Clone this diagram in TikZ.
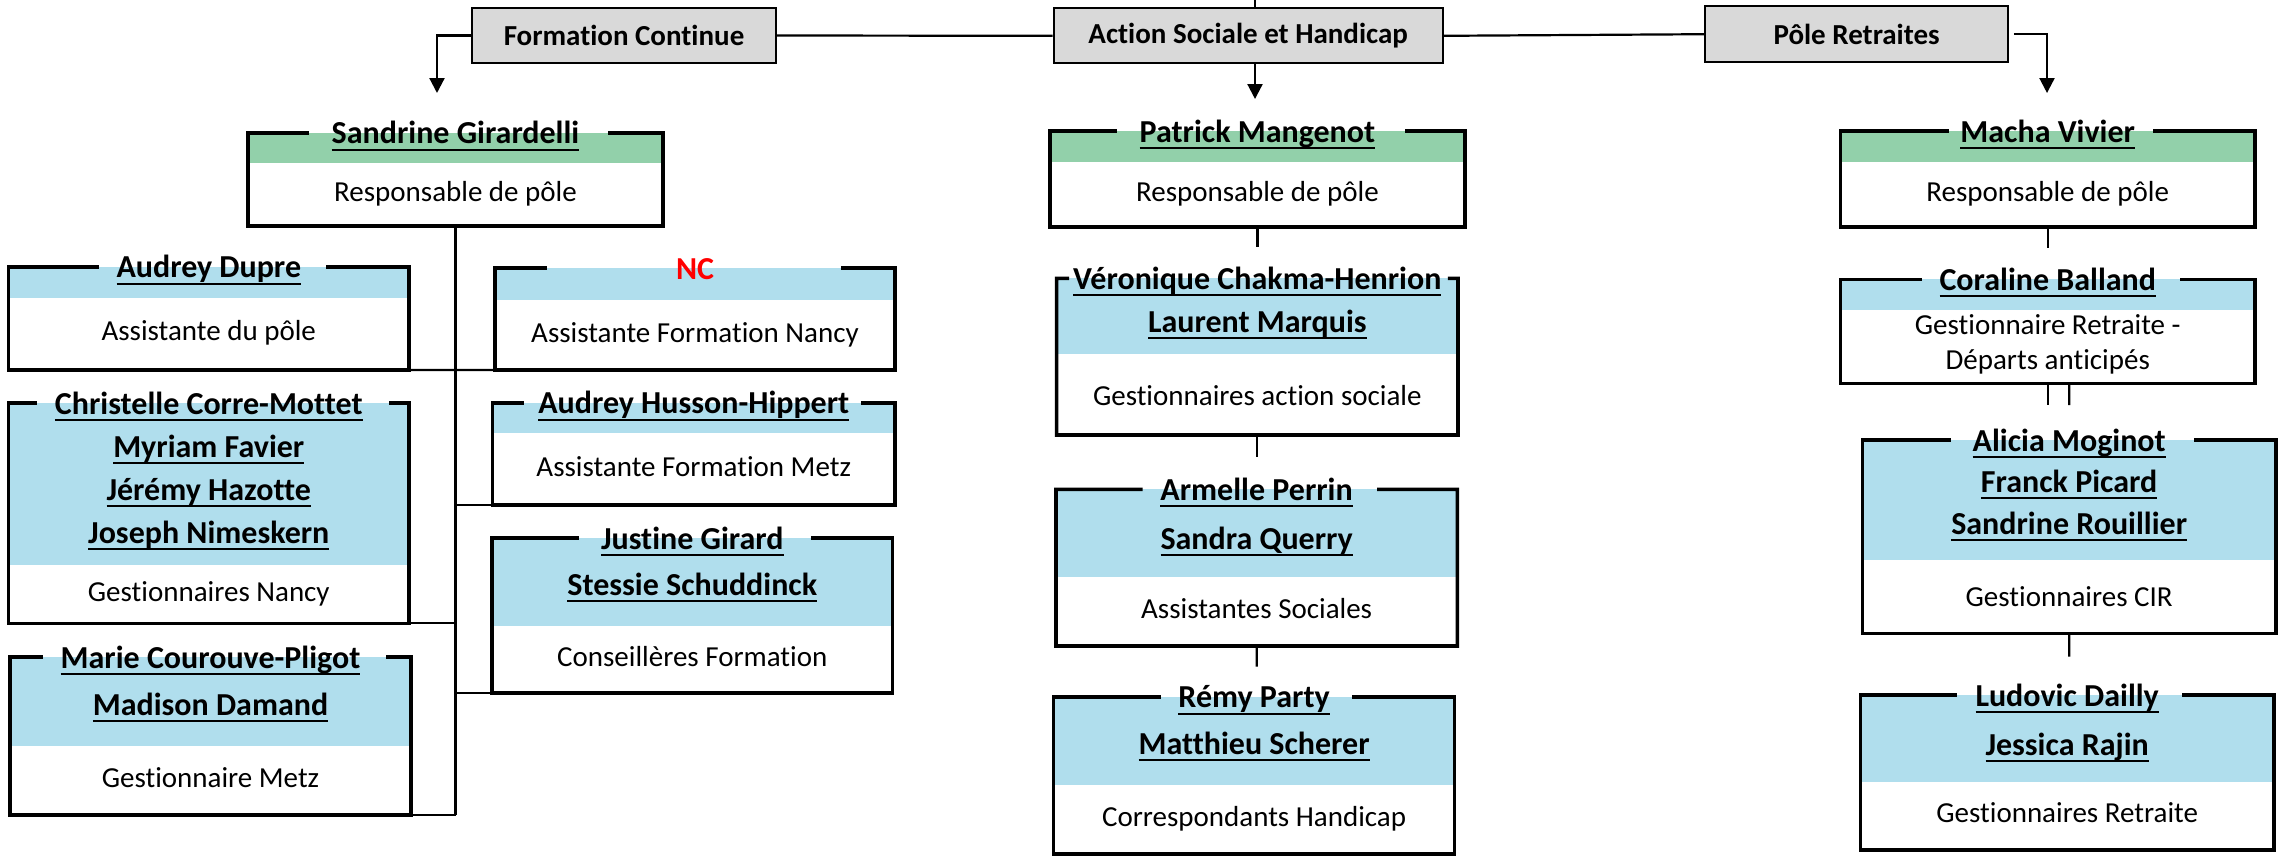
\documentclass[tikz,border=0pt]{standalone}
\usepackage{fontspec}
\setmainfont{Carlito}[Ligatures={NoCommon}]
\usetikzlibrary{arrows.meta}
\definecolor{bandgreen}{HTML}{92D0AA}
\definecolor{bandblue}{HTML}{B0DEED}
\definecolor{headgray}{HTML}{D9D9D9}
\newcommand\ulname[1]{\setbox0\hbox{#1}\rlap{\rule[-3.4pt]{\wd0}{1pt}}\box0}
\newcommand\redname[1]{\textcolor{red}{#1}}
\pgfkeys{/pb/.is family, /pb/.cd,
  x1/.store in=\pbxa, y1/.store in=\pbya, x2/.store in=\pbxb, y2/.store in=\pbyb,
  band/.store in=\pbband, col/.store in=\pbcol, gl/.store in=\pbgl, gr/.store in=\pbgr,
  sp/.store in=\pbsp, ro/.store in=\pbro, nf/.store in=\pbnf}
\tikzset{
 pboxnode/.style={rectangle, inner sep=0pt, outer sep=0pt},
 nametext/.style={anchor=base, inner sep=0pt, font=\fontsize{16}{19}\selectfont\bfseries},
 roletext/.style={anchor=base, inner sep=0pt, font=\fontsize{14.5}{17}\selectfont},
 frame/.style={line width=1.8pt, line join=miter},
 headbox/.style={draw, fill=headgray, line width=1pt, inner sep=0pt, font=\fontsize{14.5}{17}\selectfont\bfseries},
 conn/.style={line width=1.1pt},
 arr/.style={conn, -{Triangle[length=7.5pt,width=7.5pt]}},
}
\newcommand\pbox[4]{%
  \pgfkeys{/pb/.cd, sp=45, ro=7, col=bandblue, nf=\ulname, #1}%
  \pgfmathsetmacro\pbw{(\pbxb-\pbxa)*0.5}%
  \pgfmathsetmacro\pbh{(\pbyb-\pbya)*0.5}%
  \pgfmathsetmacro\pbcx{(\pbxa+\pbxb)/2}%
  \pgfmathsetmacro\pbcy{(\pbya+\pbyb)/2}%
  \pgfmathsetmacro\pbry{(\pbband+\pbyb)/2+\pbro}%
  \node[pboxnode, minimum width=\pbw pt, minimum height=\pbh pt] (#2) at (\pbcx,\pbcy) {};
  \fill[\pbcol] (#2.north west) rectangle (\pbxb,\pbband);
  \foreach \nm [count=\ni] in {#3} {\node[nametext] (#2-\ni) at (\pbcx,{\pbya+11+(\ni-1)*\pbsp}) {\pbnf{\nm}};}
  \foreach \rl [count=\ni] in {#4} {\node[roletext] (#2-r\ni) at (\pbcx,{\pbry+(\ni-1)*35}) {\rl};}
  \draw[frame] (\pbgl,\pbya) -- (#2.north west) -- (#2.south west) -- (#2.south east) -- (#2.north east) -- (\pbgr,\pbya);
}
\begin{document}
\begin{tikzpicture}[x=0.5pt,y=-0.5pt]
\useasboundingbox (0,0) rectangle (2279,858);
% header boxes
\node[headbox, minimum width=152pt, minimum height=27.8pt] (fc) at (624,35.5) {Formation Continue};
\node[headbox, minimum width=194.6pt, minimum height=27.5pt] (ash) at (1248.2,35.8) {Action Sociale et Handicap};
\node[headbox, minimum width=151.2pt, minimum height=28.2pt] (pr) at (1856.6,34.2) {Pôle Retraites};
\coordinate (topc) at (1255,0);
\coordinate (a1) at (437,93);
\coordinate (a2) at (1255,99);
\coordinate (a3) at (2047,93);
\draw[conn] (topc) -- (topc |- ash.north);
\draw[conn] (fc.east) -- (ash.west);
\draw[conn] (ash.east) -- (pr.west);
\draw[arr] (fc.west) -| (a1);
\draw[arr] (topc |- ash.south) -- (a2);
\draw[arr] ([xshift=2.5pt]pr.east) -| (a3);

% Formation Continue
\pbox{x1=248,y1=132.7,x2=663,y2=225.7,band=162.7,col=bandgreen,gl=309,gr=608}{sg}{Sandrine Girardelli}{Responsable de pôle}
\pbox{x1=8.6,y1=266.7,x2=409,y2=370,band=297.7,gl=98.7,gr=326}{ad}{Audrey Dupre}{Assistante du pôle}
\pbox{x1=495,y1=268,x2=895,y2=370,band=300,gl=546.5,gr=841,nf=\redname}{nc}{NC}{Assistante Formation Nancy}
\pbox{x1=8.6,y1=403,x2=409,y2=623.3,band=565,gl=37,gr=389,sp=43}{cc}{Christelle Corre-Mottet,Myriam Favier,Jérémy Hazotte,Joseph Nimeskern}{Gestionnaires Nancy}
\pbox{x1=492.5,y1=402.7,x2=895,y2=505,band=433,gl=523.5,gr=861}{ah}{Audrey Husson-Hippert}{Assistante Formation Metz}
\pbox{x1=492,y1=538,x2=892.6,y2=693,band=626,gl=578.6,gr=811,sp=46.6}{jg}{Justine Girard,Stessie Schuddinck}{Conseillères Formation}
\pbox{x1=10,y1=657,x2=411,y2=815,band=745.7,gl=43,gr=385.7,sp=47}{mc}{Marie Courouve-Pligot,Madison Damand}{Gestionnaire Metz}

\draw[conn] (sg.south) -- (sg.south |- mc.south east);
\draw[conn] (ad.south east) -- (nc.south west);
\draw[conn] (sg.south |- ah.south west) -- (ah.south west);
\draw[conn] (cc.south east) -- (sg.south |- cc.south east);
\draw[conn] (sg.south |- jg.south west) -- (jg.south west);
\draw[conn] (mc.south east) -- (sg.south |- mc.south east);

% Action Sociale et Handicap
\pbox{x1=1049.8,y1=131,x2=1465,y2=226.7,band=161.7,col=bandgreen,gl=1116.7,gr=1404.5}{pm}{Patrick Mangenot}{Responsable de pôle}
\pbox{x1=1056.6,y1=278.3,x2=1458,y2=435,band=354,gl=1069,gr=1447.8,sp=43.3,ro=11}{vc}{Véronique Chakma-Henrion,Laurent Marquis}{Gestionnaires action sociale}
\pbox{x1=1056,y1=489.3,x2=1457.3,y2=646,band=576.7,gl=1142.7,gr=1377,sp=48.7}{ap}{Armelle Perrin,Sandra Querry}{Assistantes Sociales}
\pbox{x1=1053.6,y1=696.7,x2=1454.6,y2=854,band=785,gl=1160.7,gr=1352,sp=46.7}{rp}{Rémy Party,Matthieu Scherer}{Correspondants Handicap}

\coordinate (s1) at (1257.4,247.3);
\coordinate (s2) at (1257.3,456.7);
\coordinate (s3) at (1256.7,666.7);
\draw[conn] (pm.south) -- (s1);
\draw[conn] (vc.south) -- (s2);
\draw[conn] (ap.south) -- (s3);

% Pole Retraites
\pbox{x1=1840.5,y1=131,x2=2254.9,y2=226.7,band=162.3,col=bandgreen,gl=1948.8,gr=2152.6}{mv}{Macha Vivier}{Responsable de pôle}
\pbox{x1=1840.5,y1=279.3,x2=2254.9,y2=383.3,band=310,gl=1922,gr=2180,ro=-11.7}{cb}{Coraline Balland}{Gestionnaire Retraite -,Départs anticipés}
\pbox{x1=1862.6,y1=440,x2=2275.7,y2=633.3,band=560,gl=1950.8,gr=2193.5,sp=41.5,ro=10}{am}{Alicia Moginot,Franck Picard,Sandrine Rouillier}{Gestionnaires CIR}
\pbox{x1=1860.6,y1=695,x2=2273.7,y2=850,band=781.7,gl=1956.8,gr=2182.3,sp=49}{ld}{Ludovic Dailly,Jessica Rajin}{Gestionnaires Retraite}

\coordinate (s4) at (2047.7,248.3);
\coordinate (s5) at (2047.7,405);
\coordinate (s6) at (2069.2,405);
\coordinate (s7) at (2069.2,656.7);
\draw[conn] (mv.south) -- (s4);
\draw[conn] (cb.south) -- (s5);
\draw[conn] (am.north |- cb.south) -- (s6);
\draw[conn] (am.south) -- (s7);
\end{tikzpicture}
\end{document}
